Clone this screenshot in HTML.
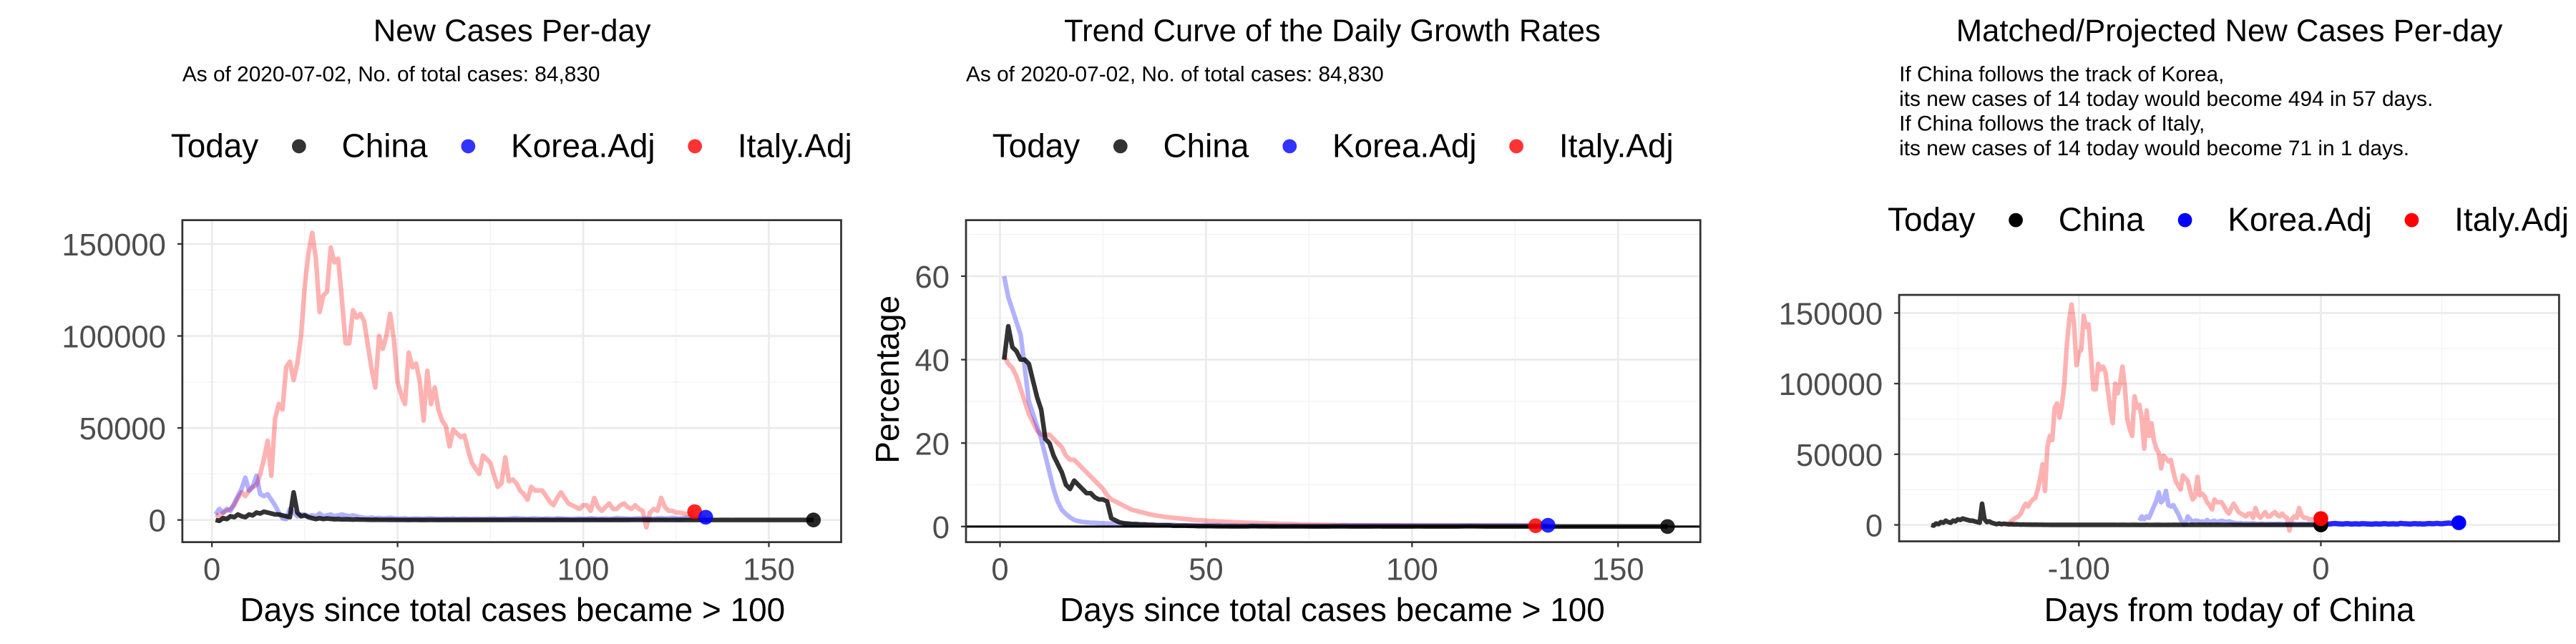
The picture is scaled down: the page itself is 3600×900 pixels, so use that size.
<!DOCTYPE html>
<html><head><meta charset="utf-8"><style>
html,body{margin:0;padding:0;background:#fff;}
svg{display:block;font-family:"Liberation Sans",sans-serif;}
</style></head><body>
<svg id="fig" width="3600" height="900" viewBox="0 0 1568 392" preserveAspectRatio="none" xmlns="http://www.w3.org/2000/svg"></svg>
<script>
// ---------- data ----------
const italyCases=[3000,2000,4000,5000,6000,8000,12000,15000,13000,16000,
18000,19000,25000,33000,43000,24000,55000,63000,60000,83000,
86000,76000,85000,100000,127000,145000,156000,142000,113000,122000,
124000,148000,140000,142000,120000,96000,96000,114000,110000,112000,
108000,95000,82000,72000,100000,93000,100000,112000,98000,75000,
68000,63000,91000,83000,85000,75000,54000,81000,63000,72000,
60000,54000,51000,40000,49000,47000,45000,46000,38000,31000,
28000,25000,35000,33000,31000,24000,18000,20000,34000,21000,
22000,20000,16000,14000,11000,18000,16000,16000,16000,13000,
10000,8000,12000,15000,12000,9000,8000,7000,6000,8000,
8000,5000,12000,7000,5000,7000,9000,6000,6000,8000,
9000,7000,6000,8000,6000,5000,-4000,4000,6000,5000,
12000,7000,5000,5000,4000,4000,3500,3000,3500,4500];
const koreaCases=[3000,6000,4000,6000,5000,9000,13000,17000,23000,16000,18000,24000,14000,13000,14000,11000,8000,4000,1000,500,
6000,4000,2000,3000,3000,2000,2500,2000,3500,2000,2500,3000,2000,2500,3000,2500,2000,2500,2000,1500,
1200,1000,1300,900,1100,800,1000,1200,900,700,
800,900,600,700,800,700,600,800,900,700,
600,500,700,600,800,500,600,700,600,500,
700,600,500,600,700,800,600,500,600,700,
900,1000,800,700,600,800,900,700,600,800,
700,600,900,800,700,600,500,700,800,600,
700,900,800,600,700,800,600,700,1100,900,
800,700,600,800,900,700,800,600,700,900,
1000,800,900,1100,900,800,1000,1200,1300,1100,
1200,1400,1500];
const chinaCases=[0,-500,1000,500,2000,1500,3000,2000,1500,3000,2500,4000,3500,4500,4000,3500,3000,3000,2500,2000,1500,15000,4000,2000,2500,1500,1000,500,1000,500,
800,600,400,500,300,400,300,200,300,200,
200,150,100,150,100,100,80,60,50,40,
30,40,20,30,25,20,15,20,30,20,
15,10,20,15,10,12,8,10,15,20,
10,8,6,10,12,8,6,5,8,10,
6,5,4,6,8,5,4,3,5,6,
4,3,5,8,6,4,3,4,6,5,
8,10,6,4,5,3,4,6,8,5,
10,20,30,40,35,25,20,15,10,8,
6,5,4,6,8,10,12,8,6,5,
4,3,5,6,4,3,8,6,5,4,
10,15,12,8,6,5,10,8,6,5,
6,8,10,12,14,10,8,6,10,12,
14,14];
const chinaGrowth=[40,48,43,42,40,40,39,35,31,28,21,20,17,15,13,10,9,11,10,9,8,8,7,6.5,6.5,6,2,1.5,1,0.8,
0.7,0.6,0.6,0.5,0.5,0.4,0.4,0.3,0.3,0.3,
0.3,0.2,0.2,0.2,0.2,0.15,0.15,0.1,0.1,0.1,
0.1,0.08,0.06,0.05,0.05,0.04,0.04,0.03,0.03,0.03,
0.1,0.08,0.06,0.05,0.05,0.04,0.04,0.03,0.03,0.03,
0.05,0.04,0.03,0.03,0.02,0.02,0.03,0.02,0.02,0.02,
0.05,0.04,0.03,0.03,0.02,0.02,0.03,0.02,0.02,0.02,
0.03,0.03,0.02,0.02,0.02,0.01,0.02,0.02,0.01,0.01,
0.03,0.03,0.02,0.02,0.02,0.01,0.02,0.02,0.01,0.01,
0.02,0.04,0.05,0.06,0.05,0.04,0.03,0.02,0.02,0.01,
0.01,0.01,0.01,0.01,0.01,0.01,0.01,0.01,0.01,0.01,
0.01,0.01,0.01,0.01,0.01,0.01,0.01,0.01,0.01,0.01,
0.02,0.02,0.02,0.01,0.01,0.01,0.02,0.01,0.01,0.01,
0.01,0.01,0.01,0.01,0.02,0.01,0.01,0.01,0.01,0.01,
0.01,0.01];
const koreaGrowth=[60,55,52,49,46,38,30,27,24,21,17,13,9,6,4,3,2.2,1.6,1.3,1.1,
1.0,0.9,0.9,0.8,0.8,0.7,0.7,0.7,0.6,0.6,
0.6,0.5,0.5,0.5,0.5,0.4,0.4,0.4,0.4,0.4,
0.4,0.4,0.3,0.3,0.3,0.3,0.3,0.3,0.3,0.3,
0.3,0.3,0.3,0.2,0.2,0.2,0.2,0.2,0.2,0.2,
0.2,0.2,0.2,0.2,0.2,0.2,0.2,0.2,0.2,0.2,
0.2,0.2,0.2,0.2,0.2,0.2,0.2,0.2,0.2,0.2,
0.2,0.2,0.3,0.3,0.3,0.3,0.3,0.3,0.3,0.3,
0.3,0.3,0.3,0.3,0.3,0.3,0.3,0.3,0.3,0.3,
0.3,0.3,0.3,0.3,0.3,0.3,0.3,0.3,0.3,0.3,
0.3,0.3,0.3,0.3,0.3,0.3,0.3,0.3,0.3,0.3,
0.3,0.3,0.3,0.3,0.3,0.3,0.3,0.3,0.3,0.3,
0.3,0.3,0.3];
const italyGrowth=[41,39,38,36,33,30,27,25,23,22,22,22,21,20,19,17,16,16,15,14,13,12,11,10,9,7.5,6.5,6,5.5,5,4.5,4,3.8,3.5,3.3,3,2.8,2.6,2.5,2.3,
2.2,2.1,2,1.9,1.8,1.7,1.6,1.5,1.5,1.4,1.3,1.3,1.2,1.2,1.1,1.1,1,1,0.95,0.9,
0.9,0.85,0.8,0.8,0.75,0.7,0.7,0.65,0.6,0.6,
0.6,0.55,0.5,0.5,0.5,0.45,0.45,0.4,0.4,0.4,
0.4,0.35,0.35,0.35,0.3,0.3,0.3,0.3,0.3,0.3,
0.3,0.25,0.25,0.25,0.25,0.25,0.25,0.2,0.2,0.2,
0.2,0.2,0.2,0.2,0.2,0.2,0.2,0.2,0.2,0.2,
0.2,0.2,0.2,0.2,0.2,0.2,0.2,0.2,0.2,0.2,
0.2,0.2,0.2,0.2,0.2,0.2,0.2,0.2,0.2,0.2];
const xTicks1=[0,50,100,150];
const yTicks1=[0,50000,100000,150000];
const yTicks2=[0,20,40,60];
const xTicks3=[-100,0];
const koreaShift3=-76, italyShift3=-130, chinaShift3=-162;

// ---------- helpers ----------
const NS="http://www.w3.org/2000/svg";
const svg=document.getElementById('fig');
function el(tag,attrs,parent,text){const e=document.createElementNS(NS,tag);for(const k in attrs)e.setAttribute(k,attrs[k]);if(text!==undefined)e.textContent=text;(parent||svg).appendChild(e);return e;}

function panel(cfg){
  const g=el('g',{});
  
  
  const {L,T,R,B,x,y}=cfg;
  el('rect',{x:L,y:T,width:R-L,height:B-T,fill:'#fff'},g);
  cfg.xMinor.forEach(v=>el('line',{x1:x(v),x2:x(v),y1:T,y2:B,stroke:'#f3f3f3','stroke-width':0.6},g));
  cfg.yMinor.forEach(v=>el('line',{x1:L,x2:R,y1:y(v),y2:y(v),stroke:'#f3f3f3','stroke-width':0.6},g));
  cfg.xTicks.forEach(v=>el('line',{x1:x(v),x2:x(v),y1:T,y2:B,stroke:'#ebebeb','stroke-width':1.2},g));
  cfg.yTicks.forEach(v=>el('line',{x1:L,x2:R,y1:y(v),y2:y(v),stroke:'#ebebeb','stroke-width':1.2},g));
  const cid='clip'+cfg.name;
  const cp=el('clipPath',{id:cid},g);el('rect',{x:L,y:T,width:R-L,height:B-T},cp);
  const pg=el('g',{'clip-path':'url(#'+cid+')'},g);
  cfg.draw(pg);
  el('rect',{x:L,y:T,width:R-L,height:B-T,fill:'none',stroke:'#333','stroke-width':1.2},g);
  cfg.xTicks.forEach(v=>{
    el('line',{x1:x(v),x2:x(v),y1:B,y2:B+3,stroke:'#333','stroke-width':1},g);
    const t=el('text',{x:x(v),y:B+23,'text-anchor':'middle','font-size':19,fill:'#4d4d4d'},g,String(v));
    
    
  });
  cfg.yTicks.forEach(v=>{
    el('line',{x1:L-3,x2:L,y1:y(v),y2:y(v),stroke:'#333','stroke-width':1},g);
    const t=el('text',{x:L-10,y:y(v)+7,'text-anchor':'end','font-size':19,fill:'#4d4d4d'},g,String(v));
    
    
  });
  return pg;
}
function series(g,arr,shift,x,y,color,w,name,filt){
  let d='';let started=false;
  arr.forEach((v,i)=>{const day=i+1+shift;if(filt&&!filt(day))return;d+=(started?'L':'M')+x(day).toFixed(2)+' '+y(v).toFixed(2)+' ';started=true;});
  const p=el('path',{d:d,fill:'none',stroke:color,'stroke-width':w,'stroke-linejoin':'round'},g);
  
  
}
function dot(g,cx,cy,color,name){
  const c=el('circle',{cx:cx,cy:cy,r:4.5,fill:color},g);
  
  
}
function legend(x0,yb,xs,alpha){
  const g=el('g',{});
  
  
  el('text',{x:xs[0],y:yb,'font-size':20,fill:'#000'},g,'Today');
  const cols=['#000','#00f','#f00'],labs=['China','Korea.Adj','Italy.Adj'];
  for(let i=0;i<3;i++){
    const c=el('circle',{cx:xs[1+i*2],cy:yb-6.5,r:4.3,fill:cols[i],'fill-opacity':alpha},g);
    
    
    const t=el('text',{x:xs[2+i*2],y:yb,'font-size':20,fill:'#000'},g,labs[i]);
    
    
  }
}
function text(x,y,s,size,anchor,name,color){
  const t=el('text',{x:x,y:y,'font-size':size,'text-anchor':anchor||'start',fill:color||'#000'},svg,s);
  
  
  return t;
}
const pink='rgba(255,0,0,0.3)',lblue='rgba(0,0,255,0.3)',dark='rgba(0,0,0,0.8)';

// ---------- Panel 1 ----------
{
  const x=d=>129+d*2.26, y=v=>316.5-v*0.00112;
  text(311.7,25,'New Cases Per-day',19,'middle','panel1-title');
  text(111,49.5,'As of 2020-07-02, No. of total cases: 84,830',13,'start','panel1-subtitle');
  legend(0,95.5,[104,182,208,285,311,423,449],0.8);
  panel({name:'panel-new-cases',L:111,T:134,R:512,B:330,x,y,xTicks:xTicks1,yTicks:yTicks1,xMinor:[25,75,125],yMinor:[25000,75000,125000],
    draw:g=>{
      series(g,italyCases,0,x,y,pink,2.8,'italy-line');
      series(g,koreaCases,0,x,y,lblue,2.8,'korea-line');
      series(g,chinaCases,0,x,y,dark,2.8,'china-line');
      dot(g,x(italyCases.length),y(italyCases[italyCases.length-1]),'rgba(255,0,0,0.85)','italy-today-dot');
      dot(g,x(koreaCases.length),y(koreaCases[koreaCases.length-1]),'rgba(0,0,255,0.85)','korea-today-dot');
      dot(g,x(chinaCases.length),y(chinaCases[chinaCases.length-1]),'rgba(0,0,0,0.85)','china-today-dot');
    }});
  text(312,378,'Days since total cases became > 100',20,'middle','x-axis-title');
}
// ---------- Panel 2 ----------
{
  const x=d=>608.7+d*2.508, y=v=>320.5-v*2.54;
  text(811,25,'Trend Curve of the Daily Growth Rates',19,'middle','panel2-title');
  text(588,49.5,'As of 2020-07-02, No. of total cases: 84,830',13,'start','panel2-subtitle');
  legend(0,95.5,[604,682,708,785,811,923,949],0.8);
  panel({name:'panel-growth',L:588,T:134,R:1035,B:330,x,y,xTicks:xTicks1,yTicks:yTicks2,xMinor:[25,75,125],yMinor:[10,30,50,70],
    draw:g=>{
      series(g,italyGrowth,0,x,y,pink,2.8,'italy-growth-line');
      series(g,koreaGrowth,0,x,y,lblue,2.8,'korea-growth-line');
      series(g,chinaGrowth,0,x,y,dark,2.8,'china-growth-line');
      el('line',{x1:588,x2:1035,y1:y(0),y2:y(0),stroke:'#000','stroke-width':1.3},g);
      dot(g,x(italyGrowth.length),y(italyGrowth[italyGrowth.length-1]),'rgba(255,0,0,0.85)','italy-today-dot');
      dot(g,x(koreaGrowth.length),y(koreaGrowth[koreaGrowth.length-1]),'rgba(0,0,255,0.85)','korea-today-dot');
      dot(g,x(chinaGrowth.length),y(chinaGrowth[chinaGrowth.length-1]),'rgba(0,0,0,0.85)','china-today-dot');
    }});
  text(811,378,'Days since total cases became > 100',20,'middle','x-axis-title');
  const yt=text(547,231,'Percentage',20,'middle','y-axis-title');
  yt.setAttribute('transform','rotate(-90 547 231)');
}
// ---------- Panel 3 ----------
{
  const x=d=>1412.7+d*1.473, y=v=>319.5-v*0.00086;
  text(1357,25,'Matched/Projected New Cases Per-day',19,'middle','panel3-title');
  text(1156,49.5,'If China follows the track of Korea,',13,'start','projection-note');
  text(1156,64.5,'its new cases of 14 today would become 494 in 57 days.',13,'start','projection-note');
  text(1156,79.5,'If China follows the track of Italy,',13,'start','projection-note');
  text(1156,94.5,'its new cases of 14 today would become 71 in 1 days.',13,'start','projection-note');
  legend(0,140.5,[1149,1227,1253,1330,1356,1468,1494],1);
  panel({name:'panel-projected',L:1156,T:179.5,R:1557.7,B:329.5,x,y,xTicks:xTicks3,yTicks:yTicks1,xMinor:[-150,-50,50],yMinor:[25000,75000,125000],
    draw:g=>{
      series(g,italyCases,italyShift3,x,y,pink,2.8,'italy-line');
      series(g,koreaCases,koreaShift3,x,y,lblue,2.8,'korea-line',d=>d<=0);
      series(g,chinaCases,chinaShift3,x,y,dark,2.8,'china-line');
      series(g,koreaCases,koreaShift3,x,y,'rgba(0,0,255,0.85)',3.2,'korea-projected-line',d=>d>=0);
      dot(g,x(0),y(chinaCases[chinaCases.length-1]),'#000','china-today-dot');
      dot(g,x(italyCases.length+italyShift3),y(italyCases[italyCases.length-1]),'#f00','italy-today-dot');
      dot(g,x(koreaCases.length+koreaShift3),y(koreaCases[koreaCases.length-1]),'#00f','korea-today-dot');
    }});
  text(1357,378,'Days from today of China',20,'middle','x-axis-title');
}
</script>
</body></html>
